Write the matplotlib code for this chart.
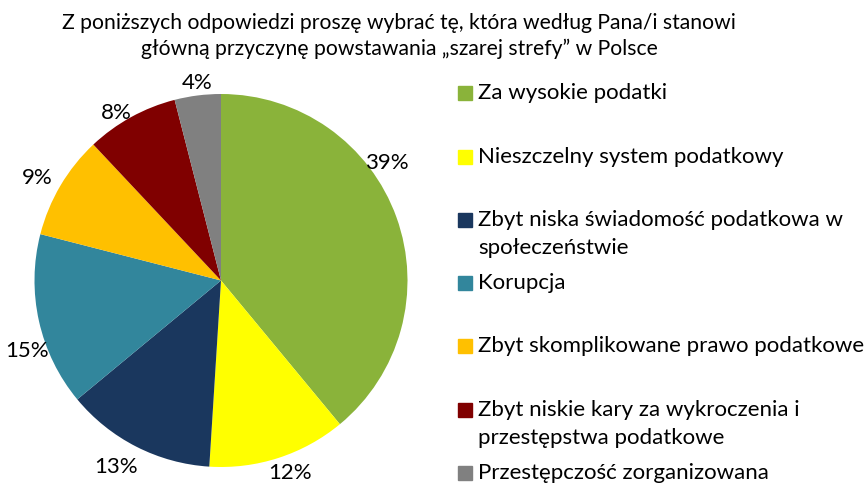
import matplotlib.pyplot as plt
import numpy as np

plt.rcParams["font.family"] = ["Lato", "DejaVu Sans"]

TITLE = "Z poniższych odpowiedzi proszę wybrać tę, która według Pana/i stanowi\ngłówną przyczynę powstawania „szarej strefy” w Polsce"

CATEGORIES = [
    "Za wysokie podatki",
    "Nieszczelny system podatkowy",
    "Zbyt niska świadomość podatkowa w\nspołeczeństwie",
    "Korupcja",
    "Zbyt skomplikowane prawo podatkowe",
    "Zbyt niskie kary za wykroczenia i\nprzestępstwa podatkowe",
    "Przestępczość zorganizowana",
]
SHARES = [39, 12, 13, 15, 9, 8, 4]
COLORS = ["#8AB33A", "#FFFF00", "#1A375E", "#32869C", "#FFC000", "#800000", "#808080"]

# data label placement ("best fit" in the original): radius in pie radii, angle in degrees
LABEL_RADIUS = [1.09, 1.097, 1.148, 1.106, 1.13, 1.06, 1.067]
LABEL_ANGLE = [35.3, -70.3, -119.4, -160.1, 150.9, 122.1, 97.0]

# legend rows: y of first line (pixels from top)
LEGEND_Y = [93, 157, 220, 283, 346, 410, 473]
LINE_STEP = 28

W, H = 864, 484
fig = plt.figure(figsize=(W / 100, H / 100), dpi=100)

cx, cy, r = 221, 280.5, 186.5
ax = fig.add_axes([(cx - r) / W, (H - cy - r) / H, 2 * r / W, 2 * r / H])
wedges, _ = ax.pie(SHARES, colors=COLORS, startangle=90, counterclock=False,
                   radius=1.0, wedgeprops=dict(linewidth=0))
ax.set_xlim(-1, 1)
ax.set_ylim(-1, 1)
ax.set_aspect("equal")
ax.axis("off")

total = sum(SHARES)
for i, v in enumerate(SHARES):
    ang = np.radians(LABEL_ANGLE[i])
    x = LABEL_RADIUS[i] * np.cos(ang)
    y = LABEL_RADIUS[i] * np.sin(ang)
    ax.text(x, y, f"{round(100 * v / total)}%", ha="center", va="center",
            fontsize=16, color="#000000", clip_on=False)

fig.text(399 / W, 1 - 36 / H, TITLE, ha="center", va="center", fontsize=15.2,
         linespacing=1.3)

for i, (lab, col) in enumerate(zip(CATEGORIES, COLORS)):
    y0 = LEGEND_Y[i]
    fig.patches.append(plt.Rectangle((458 / W, 1 - (y0 + 7) / H), 14 / W, 14 / H,
                                     transform=fig.transFigure, color=col))
    for j, line in enumerate(lab.split("\n")):
        fig.text(478 / W, 1 - (y0 + j * LINE_STEP) / H, line, ha="left",
                 va="center", fontsize=16)

fig.savefig("out.png", dpi=100)
